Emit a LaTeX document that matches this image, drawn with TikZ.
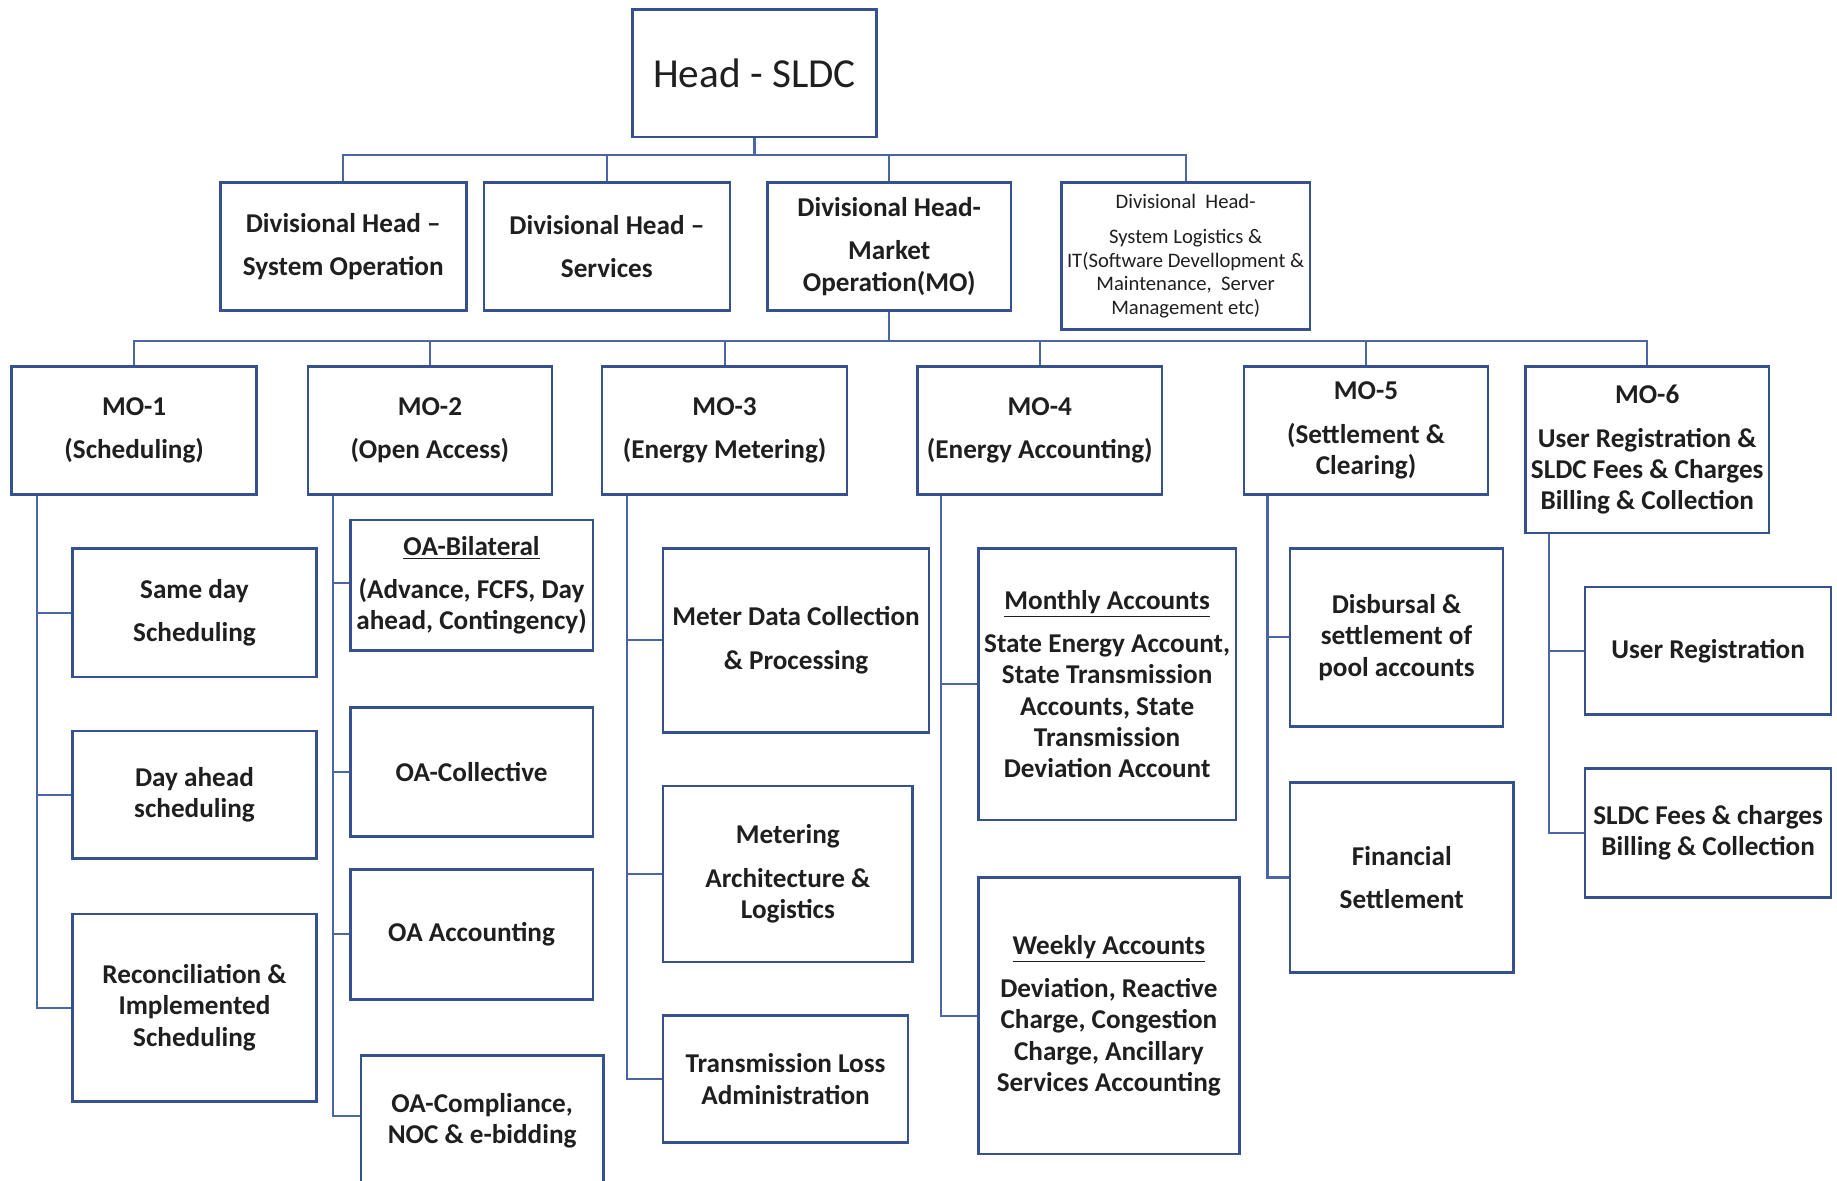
\documentclass[tikz,border=0pt]{standalone}
\usepackage{fontspec}
\setmainfont{Carlito}
\definecolor{boxc}{HTML}{35528F}
\definecolor{linec}{HTML}{4A66A6}
\newcommand\orgbox[7][]{%
  \pgfmathsetmacro\obw{(#5-#3)*0.5}%
  \pgfmathsetmacro\obh{(#6-#4)*0.5}%
  \node[box,#1,minimum width=\obw pt,minimum height=\obh pt] (#2) at ({(#3+#5)/2},{(#4+#6)/2}) {#7};}
\tikzset{
  box/.style={draw=boxc, line width=1.1pt, inner sep=0pt, align=center,
    font=\bfseries\fontsize{11.6}{13.4}\selectfont, text=black!88},
  headfont/.style={font=\fontsize{17.6}{20}\selectfont},
  smallfont/.style={font=\fontsize{8.8}{10}\selectfont},
  conn/.style={draw=linec, line width=0.9pt}
}
\begin{document}
\begin{tikzpicture}[x=0.5pt,y=-0.5pt]
\clip (0,0) rectangle (1568,1008);
\fill[white] (0,0) rectangle (1568,1008);
% top level
\orgbox[headfont]{head}{540}{8}{748}{117}{Head - SLDC}
\orgbox{div1}{188}{156}{398}{265}{Divisional Head –\\[5pt]System Operation}
\orgbox{div2}{413}{156}{623}{265}{Divisional Head –\\[5pt]Services}
\orgbox{div3}{655}{156}{863}{265}{Divisional Head-\\[5pt]Market\\Operation(MO)}
\orgbox[smallfont]{div4}{906}{156}{1118}{281}{Divisional\ \ Head-\\[5pt]System Logistics \&\\IT(Software Devellopment \&\\Maintenance,\ \ Server\\Management etc)}
% MO level
\orgbox{mo1}{10}{313}{219}{422}{MO-1\\[5pt](Scheduling)}
\orgbox{mo2}{263}{313}{471}{422}{MO-2\\[5pt](Open Access)}
\orgbox{mo3}{514}{313}{723}{422}{MO-3\\[5pt](Energy Metering)}
\orgbox{mo4}{783}{313}{992}{422}{MO-4\\[5pt](Energy Accounting)}
\orgbox{mo5}{1062}{313}{1270}{422}{MO-5\\[5pt](Settlement \&\\Clearing)}
\orgbox{mo6}{1302}{313}{1510}{455}{MO-6\\[5pt]User Registration \&\\SLDC Fees \& Charges\\Billing \& Collection}
% MO-1 children
\orgbox{c11}{62}{468}{270}{578}{Same day\\[5pt]Scheduling}
\orgbox{c12}{62}{624}{270}{733}{Day ahead\\scheduling}
\orgbox{c13}{62}{780}{270}{940}{Reconciliation \&\\Implemented\\Scheduling}
% MO-2 children
\orgbox{c21}{299}{444}{506}{555}{\underline{OA-Bilateral}\\[5pt](Advance, FCFS, Day\\ahead, Contingency)}
\orgbox{c22}{299}{604}{506}{714}{OA-Collective}
\orgbox{c23}{299}{742}{506}{853}{OA Accounting}
\orgbox{c24}{308}{901}{515}{1012}{OA-Compliance,\\NOC \& e-bidding}
% MO-3 children
\orgbox{c31}{566}{468}{793}{625}{Meter Data Collection\\[5pt]\& Processing}
\orgbox{c32}{566}{671}{779}{821}{Metering\\[5pt]Architecture \&\\Logistics}
\orgbox{c33}{566}{867}{775}{975}{Transmission Loss\\Administration}
% MO-4 children
\orgbox{c41}{835}{468}{1055}{700}{\underline{Monthly Accounts}\\[5pt]State Energy Account,\\State Transmission\\Accounts, State\\Transmission\\Deviation Account}
\orgbox{c42}{835}{749}{1058}{985}{\underline{Weekly Accounts}\\[5pt]Deviation, Reactive\\Charge, Congestion\\Charge, Ancillary\\Services Accounting}
% MO-5 children
\orgbox{c51}{1101}{468}{1283}{620}{Disbursal \&\\settlement of\\pool accounts}
\orgbox{c52}{1101}{668}{1292}{830}{Financial\\[5pt]Settlement}
% MO-6 children
\orgbox{c61}{1353}{501}{1563}{610}{User Registration}
\orgbox{c62}{1353}{656}{1563}{766}{SLDC Fees \& charges\\Billing \& Collection}
% buses
\path (head.south) ++(0,14) coordinate (bus1);
\draw[conn] (head.south) -- (bus1);
\draw[conn] (div1.north) |- (bus1) -| (div4.north);
\draw[conn] (bus1) -| (div2.north);
\draw[conn] (bus1) -| (div3.north);
\path (div3.south) ++(0,25) coordinate (bus2);
\draw[conn] (div3.south) -- (bus2);
\draw[conn] (mo1.north) |- (bus2) -| (mo6.north);
\draw[conn] (bus2) -| (mo2.north);
\draw[conn] (bus2) -| (mo3.north);
\draw[conn] (bus2) -| (mo4.north);
\draw[conn] (bus2) -| (mo5.north);
% trunks
\path (mo1.south west) ++(23,0) coordinate (t1);
\path (mo2.south west) ++(22,0) coordinate (t2);
\path (mo3.south west) ++(22,0) coordinate (t3);
\path (mo4.south west) ++(21,0) coordinate (t4);
\path (mo5.south west) ++(21,0) coordinate (t5);
\path (mo6.south west) ++(21,0) coordinate (t6);
\foreach \c in {c11,c12,c13} \draw[conn] (t1) |- (\c.west);
\draw[conn] (t2) |- ([yshift=1pt]c21.west);
\foreach \c in {c22,c23} \draw[conn] (t2) |- (\c.west);
\draw[conn] (t2) |- ([yshift=2pt]c24.west);
\foreach \c in {c31,c32,c33} \draw[conn] (t3) |- (\c.west);
\foreach \c in {c41,c42} \draw[conn] (t4) |- (\c.west);
\foreach \c in {c51,c52} \draw[conn] (t5) |- (\c.west);
\foreach \c in {c61,c62} \draw[conn] (t6) |- (\c.west);
\end{tikzpicture}
\end{document}
